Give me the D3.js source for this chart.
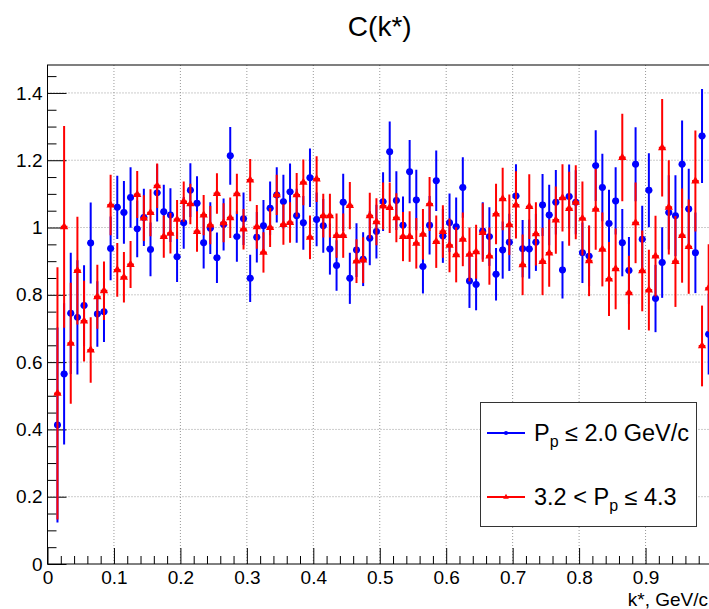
<!DOCTYPE html>
<html>
<head>
<meta charset="utf-8">
<script src="https://cdn.jsdelivr.net/npm/d3@7"></script>
<style>
  body { margin: 0; background: #fff; }
  text { font-family: "Liberation Sans", Arial, Helvetica, sans-serif; }
</style>
</head>
<body>
<div id="container"></div>
<script>
let w = 709;
let h = 609;
let frame = { left: 47.5, right: 712, top: 65, bottom: 564 };

// bin centres of k* (GeV/c)
let kStar = [0.015, 0.025, 0.035, 0.045, 0.055, 0.065, 0.075, 0.085, 0.095,
  0.105, 0.115, 0.125, 0.135, 0.145, 0.155, 0.165, 0.175, 0.185, 0.195,
  0.205, 0.215, 0.225, 0.235, 0.245, 0.255, 0.265, 0.275, 0.285, 0.295,
  0.305, 0.315, 0.325, 0.335, 0.345, 0.355, 0.365, 0.375, 0.385, 0.395,
  0.405, 0.415, 0.425, 0.435, 0.445, 0.455, 0.465, 0.475, 0.485, 0.495,
  0.505, 0.515, 0.525, 0.535, 0.545, 0.555, 0.565, 0.575, 0.585, 0.595,
  0.605, 0.615, 0.625, 0.635, 0.645, 0.655, 0.665, 0.675, 0.685, 0.695,
  0.705, 0.715, 0.725, 0.735, 0.745, 0.755, 0.765, 0.775, 0.785, 0.795,
  0.805, 0.815, 0.825, 0.835, 0.845, 0.855, 0.865, 0.875, 0.885, 0.895,
  0.905, 0.915, 0.925, 0.935, 0.945, 0.955, 0.965, 0.975, 0.985, 0.995];

// P_p <= 2.0 GeV/c
let blueC = [0.413, 0.565, 0.745, 0.733, 0.768, 0.954, 0.743, 0.75, 0.938,
  1.06, 1.045, 1.089, 0.996, 1.03, 0.935, 1.103, 1.047, 1.037, 0.913,
  1.014, 1.111, 1.072, 0.955, 0.998, 0.91, 1.009, 1.213, 0.973, 1.026,
  0.849, 0.971, 1.005, 1.057, 1.097, 1.077, 1.106, 1.035, 1.014, 1.148,
  1.024, 1.005, 0.936, 0.887, 1.075, 0.849, 0.933, 0.906, 0.968, 0.988,
  1.077, 1.225, 1.08, 1.007, 1.166, 1.082, 0.884, 1.007, 1.139, 0.975,
  1.014, 1.002, 1.119, 0.841, 0.831, 0.99, 0.973, 0.861, 0.933, 0.956,
  1.094, 0.937, 0.936, 0.956, 1.067, 1.037, 1.075, 0.874, 1.092, 1.075,
  0.925, 0.915, 1.184, 1.119, 1.012, 1.079, 0.955, 0.872, 1.188, 0.965,
  1.111, 0.789, 0.896, 1.045, 1.035, 1.188, 1.055, 0.925, 1.272, 0.683];
let blueErr = [0.29, 0.21, 0.18, 0.17, 0.12, 0.12, 0.097, 0.09, 0.095,
  0.094, 0.093, 0.09, 0.084, 0.085, 0.08, 0.085, 0.08, 0.08, 0.075,
  0.077, 0.08, 0.08, 0.077, 0.077, 0.075, 0.077, 0.086, 0.075, 0.078,
  0.07, 0.075, 0.077, 0.08, 0.082, 0.08, 0.084, 0.08, 0.08, 0.087,
  0.08, 0.08, 0.076, 0.075, 0.085, 0.076, 0.08, 0.08, 0.08, 0.08,
  0.087, 0.09, 0.087, 0.085, 0.094, 0.09, 0.08, 0.087, 0.09, 0.08,
  0.087, 0.087, 0.09, 0.08, 0.077, 0.085, 0.087, 0.078, 0.085, 0.085,
  0.094, 0.085, 0.088, 0.085, 0.092, 0.09, 0.096, 0.085, 0.095, 0.095,
  0.09, 0.09, 0.105, 0.1, 0.1, 0.1, 0.1, 0.1, 0.11, 0.1,
  0.11, 0.1, 0.105, 0.11, 0.12, 0.13, 0.12, 0.12, 0.14, 0.12];

// 3.2 < P_p <= 4.3
let redC = [0.507, 1.002, 0.656, 0.872, 0.722, 0.636, 0.794, 0.812, 1.067,
  0.874, 0.852, 0.89, 1.098, 1.028, 1.044, 1.124, 0.973, 0.983, 1.024,
  1.077, 1.07, 0.988, 1.037, 1.007, 1.101, 1.014, 1.029, 1.1, 0.995,
  1.141, 1.002, 0.926, 1.0, 1.097, 1.009, 1.015, 1.097, 1.134, 0.971,
  1.144, 1.035, 1.035, 0.976, 0.976, 1.065, 0.9, 0.903, 1.035, 1.017,
  1.064, 1.059, 1.029, 0.973, 0.973, 0.953, 0.98, 1.07, 0.958, 0.988,
  0.947, 0.919, 0.965, 0.92, 0.928, 0.985, 0.915, 1.04, 1.085, 1.008,
  1.067, 0.889, 1.062, 0.981, 0.899, 0.924, 1.022, 1.088, 1.056, 1.075,
  1.027, 0.901, 1.054, 0.935, 0.847, 0.877, 1.208, 0.806, 1.014, 0.871,
  0.814, 0.915, 1.237, 1.06, 0.899, 0.976, 0.943, 1.138, 0.648, 0.82];
let redErr = [0.375, 0.3, 0.18, 0.16, 0.12, 0.097, 0.095, 0.087, 0.09,
  0.08, 0.075, 0.07, 0.07, 0.068, 0.07, 0.066, 0.063, 0.06, 0.058,
  0.06, 0.06, 0.06, 0.06, 0.057, 0.06, 0.058, 0.06, 0.06, 0.06,
  0.063, 0.065, 0.06, 0.058, 0.06, 0.06, 0.06, 0.065, 0.068, 0.065,
  0.068, 0.065, 0.065, 0.066, 0.066, 0.07, 0.065, 0.068, 0.068, 0.07,
  0.07, 0.075, 0.073, 0.073, 0.075, 0.075, 0.075, 0.08, 0.078, 0.078,
  0.08, 0.082, 0.08, 0.08, 0.08, 0.087, 0.085, 0.09, 0.093, 0.09,
  0.1, 0.09, 0.096, 0.094, 0.1, 0.1, 0.1, 0.1, 0.11, 0.11,
  0.11, 0.105, 0.12, 0.11, 0.11, 0.12, 0.13, 0.11, 0.12, 0.12,
  0.12, 0.12, 0.145, 0.14, 0.135, 0.14, 0.14, 0.15, 0.12, 0.13];

let binHalf = 0.005;
let xTicks = [0, 0.1, 0.2, 0.3, 0.4, 0.5, 0.6, 0.7, 0.8, 0.9];
let yTicks = [0, 0.2, 0.4, 0.6, 0.8, 1, 1.2, 1.4];

let svg = d3.select("#container")
  .append("svg")
  .attr("width", w)
  .attr("height", h)
  .style("display", "block")
  .style("background-color", "#fff");

let xScale = d3.scaleLinear()
  .domain([0, 1])
  .range([frame.left, frame.right]);

let yScale = d3.scaleLinear()
  .domain([0, 1.483])
  .range([frame.bottom, frame.top]);

// grid
svg.append("g")
  .selectAll("line")
  .data(xTicks.slice(1))
  .join("line")
  .attr("x1", d => xScale(d)).attr("x2", d => xScale(d))
  .attr("y1", frame.top).attr("y2", frame.bottom)
  .attr("stroke", "#999")
  .attr("stroke-dasharray", "1 2");

svg.append("g")
  .selectAll("line")
  .data(yTicks.slice(1))
  .join("line")
  .attr("x1", frame.left).attr("x2", frame.right)
  .attr("y1", d => yScale(d)).attr("y2", d => yScale(d))
  .attr("stroke", "#999")
  .attr("stroke-dasharray", "1 2");

// frame
svg.append("rect")
  .attr("x", frame.left)
  .attr("y", frame.top)
  .attr("width", frame.right - frame.left)
  .attr("height", frame.bottom - frame.top)
  .attr("fill", "none")
  .attr("stroke", "#000");

// minor ticks
let xMinor = d3.range(0.02, 1, 0.02).filter(d => Math.abs(d * 10 - Math.round(d * 10)) > 1e-6);
let yMinor = d3.range(0.05, 1.48, 0.05).filter(d => Math.abs(d * 5 - Math.round(d * 5)) > 1e-6);

svg.append("g")
  .attr("transform", "translate(0," + frame.bottom + ")")
  .call(d3.axisBottom(xScale).tickValues(xMinor).tickSizeInner(-8).tickSizeOuter(0).tickFormat(""))
  .call(g => g.select(".domain").remove());

svg.append("g")
  .attr("transform", "translate(" + frame.left + ",0)")
  .call(d3.axisLeft(yScale).tickValues(yMinor).tickSizeInner(-9).tickSizeOuter(0).tickFormat(""))
  .call(g => g.select(".domain").remove());

// x axis
svg.append("g")
  .attr("transform", "translate(0," + frame.bottom + ")")
  .call(d3.axisBottom(xScale)
    .tickValues(xTicks.concat([1]))
    .tickSizeInner(-16)
    .tickSizeOuter(0)
    .tickPadding(7)
    .tickFormat(d => d === 1 ? "" : d3.format("~g")(d)))
  .attr("font-size", 19)
  .attr("font-family", null)
  .call(g => g.select(".domain").remove());

// y axis
svg.append("g")
  .attr("transform", "translate(" + frame.left + ",0)")
  .call(d3.axisLeft(yScale)
    .tickValues(yTicks)
    .tickSizeInner(-19)
    .tickSizeOuter(0)
    .tickPadding(5)
    .tickFormat(d3.format("~g")))
  .attr("font-size", 19)
  .attr("font-family", null)
  .call(g => g.select(".domain").remove());

svg.selectAll(".tick text").attr("fill", "#000");

// titles
svg.append("text")
  .attr("x", (frame.left + frame.right) / 2)
  .attr("y", 36)
  .attr("text-anchor", "middle")
  .attr("font-size", 28)
  .text("C(k*)");

// axis title, pulled in a little so it stays inside the window
svg.append("text")
  .attr("x", 708)
  .attr("y", 606)
  .attr("text-anchor", "end")
  .attr("font-size", 19)
  .text("k*, GeV/c");

// data
svg.append("clipPath")
  .attr("id", "clip")
  .append("rect")
  .attr("x", frame.left).attr("y", frame.top)
  .attr("width", frame.right - frame.left)
  .attr("height", frame.bottom - frame.top);

let plot = svg.append("g").attr("clip-path", "url(#clip)");

function drawSeries(values, errs, color, marker) {
  let rows = kStar.map((k, i) => ({ k: k, c: values[i], e: errs[i] }));
  let g = plot.append("g");

  g.selectAll(".ey")
    .data(rows)
    .join("line")
    .attr("x1", d => xScale(d.k)).attr("x2", d => xScale(d.k))
    .attr("y1", d => yScale(d.c - d.e)).attr("y2", d => yScale(d.c + d.e))
    .attr("stroke", color)
    .attr("stroke-width", 2);

  g.selectAll(".ex")
    .data(rows)
    .join("line")
    .attr("x1", d => xScale(d.k - binHalf)).attr("x2", d => xScale(d.k + binHalf))
    .attr("y1", d => yScale(d.c)).attr("y2", d => yScale(d.c))
    .attr("stroke", color)
    .attr("stroke-width", 2);

  g.selectAll("path")
    .data(rows)
    .join("path")
    .attr("transform", d => "translate(" + xScale(d.k) + "," + yScale(d.c) + ")")
    .attr("d", d3.symbol().type(marker).size(marker === d3.symbolCircle ? 38 : 30))
    .attr("fill", color);
}

drawSeries(blueC, blueErr, "#0000ff", d3.symbolCircle);
drawSeries(redC, redErr, "#ff0000", d3.symbolTriangle);

// legend
let legend = svg.append("g");
legend.append("rect")
  .attr("x", 480.5).attr("y", 402.5)
  .attr("width", 216).attr("height", 124)
  .attr("fill", "#fff")
  .attr("stroke", "#333");

let entries = [
  { color: "#0000ff", marker: d3.symbolCircle, y: 433, parts: ["P", "p", " \u2264 2.0 GeV/c"], pre: "" },
  { color: "#ff0000", marker: d3.symbolTriangle, y: 497, parts: ["P", "p", " \u2264 4.3"], pre: "3.2 < " }
];

entries.forEach(function (e) {
  legend.append("line")
    .attr("x1", 487).attr("x2", 525)
    .attr("y1", e.y).attr("y2", e.y)
    .attr("stroke", e.color)
    .attr("stroke-width", 2);
  legend.append("path")
    .attr("transform", "translate(506," + e.y + ")")
    .attr("d", d3.symbol().type(e.marker).size(14))
    .attr("fill", e.color);
  let t = legend.append("text")
    .attr("x", 534)
    .attr("y", e.y + 8)
    .attr("font-size", 23.5);
  if (e.pre) t.append("tspan").text(e.pre);
  t.append("tspan").text(e.parts[0]);
  t.append("tspan").attr("font-size", 16).attr("dy", 6).text(e.parts[1]);
  t.append("tspan").attr("dy", -6).text(e.parts[2]);
});
</script>
</body>
</html>
